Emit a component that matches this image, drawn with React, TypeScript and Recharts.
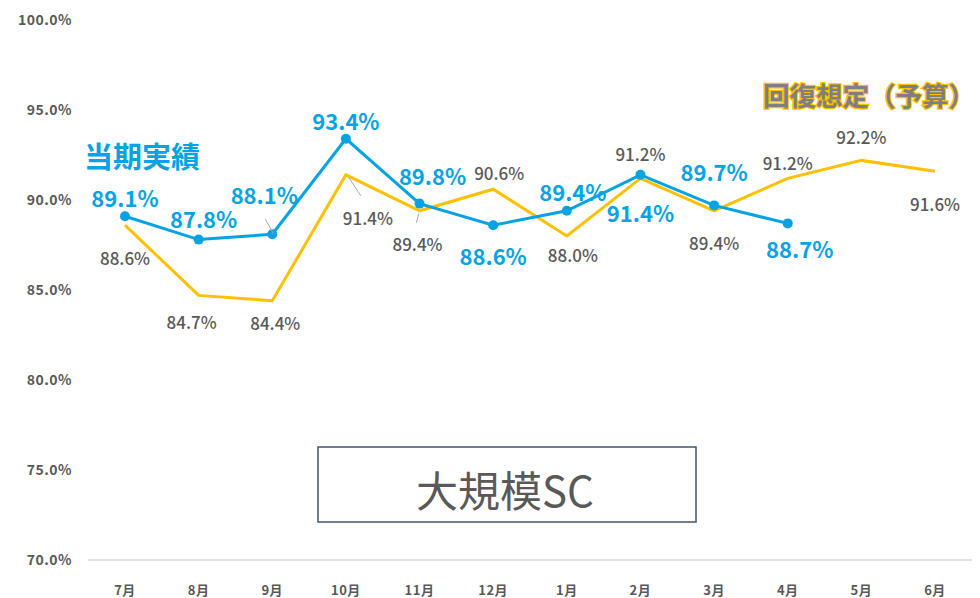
import React from "react";
import { LineChart, Line, XAxis, YAxis, LabelList } from "recharts";

const months = ["7月", "8月", "9月", "10月", "11月", "12月", "1月", "2月", "3月", "4月", "5月", "6月"];
const actual: (number | null)[] = [89.1, 87.8, 88.1, 93.4, 89.8, 88.6, 89.4, 91.4, 89.7, 88.7, null, null];
const budget: number[] = [88.6, 84.7, 84.4, 91.4, 89.4, 90.6, 88.0, 91.2, 89.4, 91.2, 92.2, 91.6];
const yTicks = [70, 75, 80, 85, 90, 95, 100];

const ACTUAL_NAME = "当期実績";
const BUDGET_NAME = "回復想定（予算）";
const PANEL_TITLE = "大規模SC";

const data = months.map((m, i) => ({ month: m, actual: actual[i], budget: budget[i] }));

// label placement (offset of label centre from its point), kept apart from data
const actualLabelOffset: [number, number][] = [
  [0, -19], [5, -22], [-8, -40], [0, -19], [13, -29], [0, 30], [6, -20], [0, 37], [0, -34], [12, 25],
];
const budgetLabelOffset: [number, number][] = [
  [0, 32], [-7, 26], [3, 22], [22, 43], [-2, 33], [6, -17], [6, 18], [0, -25], [0, 32], [0, -16], [0, -24], [0, 32],
];
const actualLeader: Record<number, [number, number, number, number]> = { 2: [-7, -15, 1, -1] };
const budgetLeader: Record<number, [number, number, number, number]> = {
  3: [3, 3, 15, 21],
  4: [-1, 3, -3, 12],
};

const FONT = "'Noto Sans CJK JP', 'Noto Sans', sans-serif";
const BLUE = "#05A3E4";
const GOLD = "#FFC000";
const GRAY = "#595959";

const makeLabel =
  (offsets: [number, number][], leaders: Record<number, [number, number, number, number]>, color: string, size: number, weight: number) =>
  (props: any) => {
    const { x, y, value, index } = props;
    if (value == null || x == null || y == null) return null;
    const off = offsets[index] || [0, -15];
    const ld = leaders[index];
    return (
      <g>
        {ld && (
          <line x1={x + ld[0]} y1={y + ld[1]} x2={x + ld[2]} y2={y + ld[3]} stroke="#A6A6A6" strokeWidth={1} />
        )}
        <text
          x={x + off[0]}
          y={y + off[1]}
          textAnchor="middle"
          dominantBaseline="central"
          fontFamily={FONT}
          fontSize={size}
          fontWeight={weight}
          fill={color}
        >
          {`${Number(value).toFixed(1)}%`}
        </text>
      </g>
    );
  };

export default function App() {
  return (
    <div style={{ position: "absolute", left: 0, top: 0, width: 980, height: 598, background: "#fff" }}>
      <LineChart width={980} height={598} data={data} margin={{ top: 20, right: 8, bottom: 8, left: 0 }}>
        <XAxis
          dataKey="month"
          height={30}
          padding={{ left: 37, right: 37 }}
          axisLine={{ stroke: "#D9D9D9", strokeWidth: 1.5 }}
          tickLine={false}
          tickMargin={20}
          interval={0}
          tick={{ fontFamily: FONT, fontSize: 13, fontWeight: 700, fill: GRAY, letterSpacing: 0.5 }}
        />
        <YAxis
          type="number"
          domain={[70, 100]}
          ticks={yTicks}
          interval={0}
          width={88}
          axisLine={false}
          tickLine={false}
          tickMargin={10}
          tickFormatter={(v: number) => `${v.toFixed(1)}%`}
          tick={{ fontFamily: FONT, fontSize: 14, fontWeight: 700, fill: GRAY, letterSpacing: 0.5 }}
        />
        <Line
          type="linear"
          dataKey="budget"
          stroke={GOLD}
          strokeWidth={3}
          dot={false}
          activeDot={false}
          isAnimationActive={false}
        >
          <LabelList dataKey="budget" content={makeLabel(budgetLabelOffset, budgetLeader, GRAY, 17, 500)} />
        </Line>
        <Line
          type="linear"
          dataKey="actual"
          stroke={BLUE}
          strokeWidth={3}
          dot={{ r: 5, fill: BLUE, stroke: BLUE, strokeWidth: 0 }}
          activeDot={false}
          connectNulls={false}
          isAnimationActive={false}
        >
          <LabelList dataKey="actual" content={makeLabel(actualLabelOffset, actualLeader, BLUE, 22, 700)} />
        </Line>
      </LineChart>
      <svg width={980} height={598} style={{ position: "absolute", left: 0, top: 0, pointerEvents: "none" }}>
        <text x={84} y={155} dominantBaseline="central" fontFamily={FONT} fontSize={29} fontWeight={700} fill={BLUE}>
          {ACTUAL_NAME}
        </text>
        <text
          x={763}
          y={94}
          dominantBaseline="central"
          fontFamily={FONT}
          fontSize={26.5}
          fontWeight={700}
          fill="#7F7F7F"
          stroke={GOLD}
          strokeWidth={2.5}
          paintOrder="stroke"
        >
          {BUDGET_NAME}
        </text>
        <rect x={318} y={447} width={378} height={75} fill="#fff" stroke="#44546A" strokeWidth={1.5} />
        <text x={505} y={488} textAnchor="middle" dominantBaseline="central" fontFamily={FONT} fontSize={42} fill={GRAY}>
          {PANEL_TITLE}
        </text>
      </svg>
    </div>
  );
}
